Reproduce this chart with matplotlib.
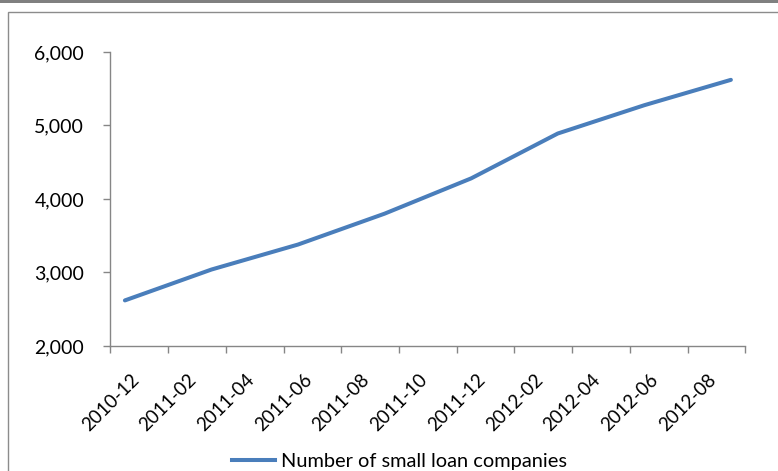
import matplotlib
matplotlib.use('Agg')
import matplotlib.pyplot as plt
import matplotlib.transforms as mtransforms
from matplotlib.patches import Rectangle
from matplotlib.lines import Line2D
from matplotlib.ticker import FuncFormatter

# month labels on the axis (one slot per month, labelled every 2 months)
months = ['2010-12', '2011-01', '2011-02', '2011-03', '2011-04', '2011-05',
          '2011-06', '2011-07', '2011-08', '2011-09', '2011-10', '2011-11',
          '2011-12', '2012-01', '2012-02', '2012-03', '2012-04', '2012-05',
          '2012-06', '2012-07', '2012-08', '2012-09']
# quarterly observations
obs_months = ['2010-12', '2011-03', '2011-06', '2011-09', '2011-12',
              '2012-03', '2012-06', '2012-09']
companies = [2620, 3040, 3380, 3800, 4280, 4890, 5275, 5620]

plt.rcParams['font.family'] = ['Lato', 'DejaVu Sans']

fig = plt.figure(figsize=(7.78, 4.71), dpi=100, facecolor='w')
ax = fig.add_axes([0.142, 0.2654, 0.816, 0.6244])

x = [months.index(m) for m in obs_months]
ax.plot(x, companies, color='#4a7ebb', lw=2.9, solid_capstyle='round',
        solid_joinstyle='round', label='Number of small loan companies')

ax.set_xlim(-0.5, len(months) - 0.5)
ax.set_ylim(2000, 6000)
ax.set_yticks([2000, 3000, 4000, 5000, 6000])
ax.yaxis.set_major_formatter(FuncFormatter(lambda v, p: f'{int(v):,}'))

lab_pos = list(range(0, len(months), 2))
ax.set_xticks(lab_pos)
ax.set_xticklabels([months[i] for i in lab_pos], rotation=45, ha='right',
                   va='top', rotation_mode='anchor')
ax.set_xticks([i - 0.5 for i in range(0, len(months) + 1, 2)], minor=True)
ax.tick_params(axis='x', which='major', length=0, pad=18, labelsize=13.5)
ax.tick_params(axis='x', which='minor', length=5, color='#868686', width=1)
ax.tick_params(axis='y', length=5, color='#868686', width=1, labelsize=14, pad=14)

# nudge rotated labels a little to the right
shift = mtransforms.ScaledTranslation(5 / 100, 0, fig.dpi_scale_trans)
for lab in ax.get_xticklabels():
    lab.set_transform(lab.get_transform() + shift)

for s in ['top', 'right']:
    ax.spines[s].set_visible(False)
for s in ['left', 'bottom']:
    ax.spines[s].set_color('#868686')
    ax.spines[s].set_linewidth(1)

fig.legend(handles=[Line2D([], [], color='#4a7ebb', lw=2.9)],
           labels=['Number of small loan companies'], loc='center',
           bbox_to_anchor=(0.514, 0.021), frameon=False, fontsize=14.4,
           handlelength=2.15, handletextpad=0.3)

# chart frame (cropped) and top bar
W, H = 778, 471
fig.patches.append(Rectangle((8 / W, -0.1), 1.2, (H - 12) / H + 0.1,
                             transform=fig.transFigure, fill=False,
                             edgecolor='#8c8c8c', lw=1))
fig.patches.append(Rectangle((0, (H - 3) / H), 1, 3 / H,
                             transform=fig.transFigure, facecolor='#808080',
                             edgecolor='none'))

fig.savefig('out.png', dpi=100)
